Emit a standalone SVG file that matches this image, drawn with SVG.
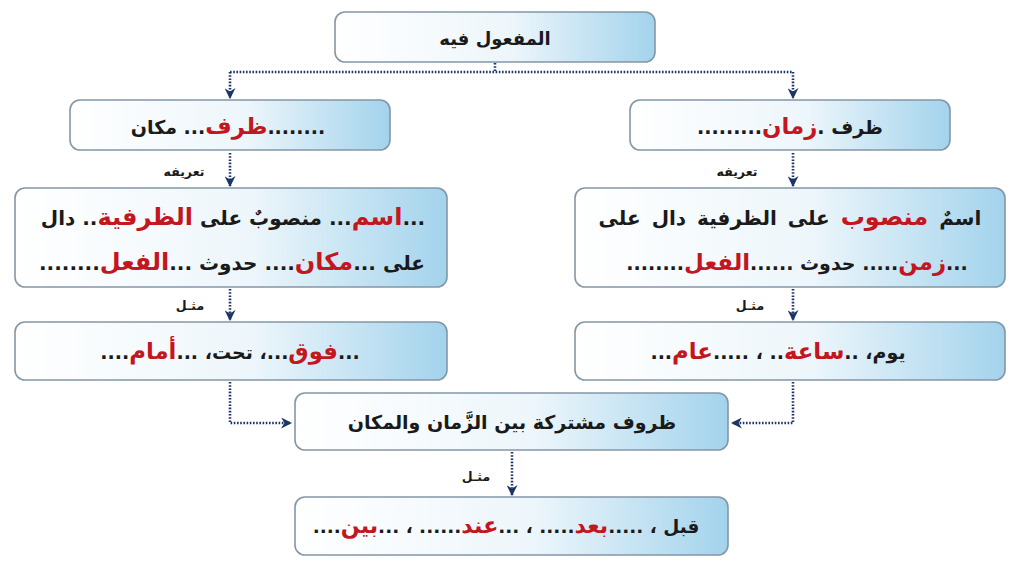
<svg xmlns="http://www.w3.org/2000/svg" width="1024" height="576" viewBox="0 0 1024 576">
<defs>
<linearGradient id="g" x1="0" y1="0" x2="1" y2="0">
<stop offset="0" stop-color="#ffffff"/>
<stop offset="0.55" stop-color="#edf6fb"/>
<stop offset="1" stop-color="#a3d3ec"/>
</linearGradient>
<marker id="ah" viewBox="0 0 10 10" refX="9" refY="5" markerWidth="11" markerHeight="11" markerUnits="userSpaceOnUse" orient="auto">
<path d="M0,0 L10,5 L0,10 L3,5 z" fill="#1c3567"/>
</marker>
<style>
.box{fill:url(#g);stroke:#8497a6;stroke-width:1.6}
.t{font-family:"DejaVu Sans",sans-serif;font-weight:bold;fill:#1a1a1a;direction:rtl;text-anchor:middle}
.r{fill:#c3161f;font-size:1.2em}
.c{fill:none;stroke:#1c3567;stroke-width:2.6;stroke-dasharray:1.6 1.6}
.lb{font-family:"DejaVu Sans",sans-serif;font-weight:bold;font-size:12.5px;fill:#1a1a1a;direction:rtl;text-anchor:middle}
</style>
</defs>
<rect width="1024" height="576" fill="#ffffff"/>
<g id="connectors">
<path class="c" d="M495,63 V72"/>
<path class="c" d="M230,72 H793"/>
<path class="c" d="M230,72 V98" marker-end="url(#ah)"/>
<path class="c" d="M793,72 V98" marker-end="url(#ah)"/>
<path class="c" d="M230,153 V186" marker-end="url(#ah)"/>
<path class="c" d="M793,153 V186" marker-end="url(#ah)"/>
<path class="c" d="M230,289 V320" marker-end="url(#ah)"/>
<path class="c" d="M793,289 V320" marker-end="url(#ah)"/>
<path class="c" d="M230,382 V423 H291" marker-end="url(#ah)"/>
<path class="c" d="M793,382 V423 H732" marker-end="url(#ah)"/>
<path class="c" d="M512,452 V495" marker-end="url(#ah)"/>
<text class="lb" x="184" y="176">تعريفه</text>
<text class="lb" x="737" y="176">تعريفه</text>
<text class="lb" x="190" y="310">مثـل</text>
<text class="lb" x="750" y="310">مثـل</text>
<text class="lb" x="476" y="481">مثـل</text>
</g>
<g id="root">
<rect class="box" x="335" y="12" width="320" height="50" rx="10"/>
<text class="t" x="495" y="45" font-size="18">المفعول فيه</text>
</g>
<g id="makan">
<rect class="box" x="70" y="100" width="320" height="50" rx="10"/>
<text class="t" x="228" y="134" font-size="19">........<tspan class="r">ظرف</tspan>... مكان</text>
</g>
<g id="zaman">
<rect class="box" x="630" y="100" width="320" height="50" rx="10"/>
<text class="t" x="790" y="134" font-size="19">ظرف .<tspan class="r">زمان</tspan>.........</text>
</g>
<g id="makan-def">
<rect class="box" x="15" y="188" width="432" height="99" rx="10"/>
<text class="t" x="233" y="225" font-size="20">...<tspan class="r">اسم</tspan>... منصوبٌ على <tspan class="r">الظرفية</tspan>.. دال</text>
<text class="t" x="232" y="270" font-size="20">على ...<tspan class="r">مكان</tspan>.... حدوث ...<tspan class="r">الفعل</tspan>........</text>
</g>
<g id="zaman-def">
<rect class="box" x="575" y="188" width="430" height="99" rx="10"/>
<text class="t" x="790" y="225" font-size="20" word-spacing="4">اسمٌ <tspan class="r">منصوب</tspan> على الظرفية دال على</text>
<text class="t" x="797" y="270" font-size="19">...<tspan class="r">زمن</tspan>..... حدوث ......<tspan class="r">الفعل</tspan>........</text>
</g>
<g id="makan-ex">
<rect class="box" x="15" y="322" width="432" height="58" rx="10"/>
<text class="t" x="230" y="359" font-size="19">...<tspan class="r">فوق</tspan>...، تحت، ...<tspan class="r">أمام</tspan>....</text>
</g>
<g id="zaman-ex">
<rect class="box" x="575" y="322" width="430" height="58" rx="10"/>
<text class="t" x="778" y="359" font-size="19">يوم، ..<tspan class="r">ساعة</tspan>.. ، .....<tspan class="r">عام</tspan>...</text>
</g>
<g id="shared">
<rect class="box" x="295" y="393" width="433" height="57" rx="10"/>
<text class="t" x="512" y="429" font-size="19">ظروف مشتركة بين الزَّمان والمكان</text>
</g>
<g id="shared-ex">
<rect class="box" x="295" y="497" width="433" height="58" rx="10"/>
<text class="t" x="506" y="533" font-size="18.5">قبل ، .....<tspan class="r">بعد</tspan>..... ، ...<tspan class="r">عند</tspan>...... ، ...<tspan class="r">بين</tspan>....</text>
</g>
</svg>
